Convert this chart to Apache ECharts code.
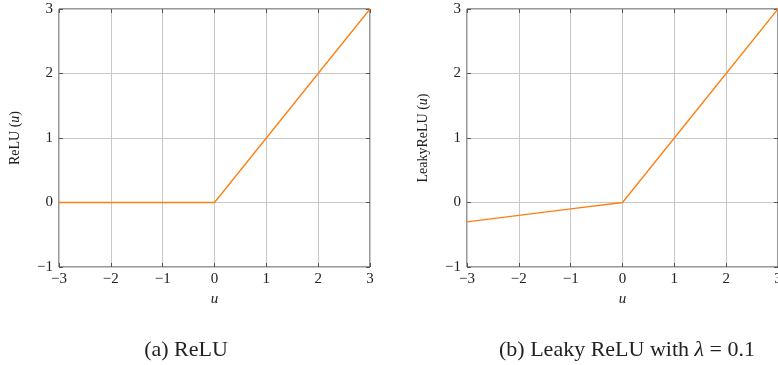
<!DOCTYPE html>
<html>
<head>
<meta charset="utf-8">
<script src="https://cdn.jsdelivr.net/npm/echarts@6/dist/echarts.min.js"></script>
<style>html,body{margin:0;padding:0;background:#fff}#c{width:778px;height:365px}</style>
</head>
<body>
<div id="c"></div>
<script>
const uValues = [-3, -2, -1, 0, 1, 2, 3];
const reluValues = [0, 0, 0, 0, 1, 2, 3];
const leakyValues = [-0.3, -0.2, -0.1, 0, 1, 2, 3];
const xTicks = [-3, -2, -1, 0, 1, 2, 3];
const yTicks = [-1, 0, 1, 2, 3];
const captions = ['{r|(a) ReLU}', '{r|(b) Leaky ReLU with }{i|λ}{r| = 0.1}'];

const FONT = 'Liberation Serif';
const lineColor = '#ff7f0e';
const fmt = v => (v < 0 ? '\u2212' + Math.abs(v) : String(v));

function xAx(gi, pos, showLabel) {
  return {
    type: 'value', gridIndex: gi, position: pos, min: xTicks[0], max: xTicks[xTicks.length - 1], interval: 1,
    axisLine: { show: false, onZero: false },
    axisTick: { show: true, inside: true, length: 4, lineStyle: { color: '#555', width: 1 } },
    axisLabel: { show: showLabel, formatter: fmt, color: '#222', fontFamily: FONT, fontSize: 15, margin: 5 },
    splitLine: { show: showLabel, lineStyle: { color: '#c8c8c8', width: 1 } },
    name: showLabel ? '{i|u}' : '', nameLocation: 'middle', nameGap: 25,
    nameTextStyle: { rich: { i: { fontFamily: FONT, fontStyle: 'italic', fontSize: 15, color: '#222' } } }
  };
}
function yAx(gi, pos, showLabel, nameTxt, nameGap) {
  return {
    type: 'value', gridIndex: gi, position: pos, min: yTicks[0], max: yTicks[yTicks.length - 1], interval: 1,
    axisLine: { show: false, onZero: false },
    axisTick: { show: true, inside: true, length: 4, lineStyle: { color: '#555', width: 1 } },
    axisLabel: { show: showLabel, formatter: fmt, color: '#222', fontFamily: FONT, fontSize: 15, margin: 6 },
    splitLine: { show: showLabel, lineStyle: { color: '#c8c8c8', width: 1 } },
    name: showLabel ? nameTxt : '', nameLocation: 'middle', nameGap: nameGap, nameRotate: 90,
    nameTextStyle: { rich: {
      r: { fontFamily: FONT, fontSize: 14, color: '#222' },
      i: { fontFamily: FONT, fontStyle: 'italic', fontSize: 14, color: '#222' }
    } }
  };
}

const capRich = {
  r: { fontFamily: FONT, fontSize: 22, fill: '#222' },
  i: { fontFamily: FONT, fontStyle: 'italic', fontSize: 22, fill: '#222' }
};

const chart = echarts.init(document.getElementById('c'), null, { renderer: 'canvas' });
chart.setOption({
  animation: false,
  backgroundColor: '#fff',
  grid: [
    { left: 59, width: 311, top: 9, height: 258, show: true, borderColor: '#333', borderWidth: 1, backgroundColor: 'transparent', outerBoundsMode: 'none', containLabel: false },
    { left: 467, width: 311, top: 9, height: 258, show: true, borderColor: '#333', borderWidth: 1, backgroundColor: 'transparent', outerBoundsMode: 'none', containLabel: false }
  ],
  xAxis: [xAx(0, 'bottom', true), xAx(0, 'top', false), xAx(1, 'bottom', true), xAx(1, 'top', false)],
  yAxis: [
    yAx(0, 'left', true, '{r|ReLU (}{i|u}{r|)}', 37),
    yAx(0, 'right', false, '', 0),
    yAx(1, 'left', true, '{r|LeakyReLU (}{i|u}{r|)}', 37),
    yAx(1, 'right', false, '', 0)
  ],
  series: [
    { type: 'line', xAxisIndex: 0, yAxisIndex: 0, data: uValues.map((u, i) => [u, reluValues[i]]),
      showSymbol: false, lineStyle: { color: lineColor, width: 1.3 }, z: 5 },
    { type: 'line', xAxisIndex: 2, yAxisIndex: 2, data: uValues.map((u, i) => [u, leakyValues[i]]),
      showSymbol: false, lineStyle: { color: lineColor, width: 1.3 }, z: 5 }
  ],
  graphic: [
    { type: 'text', style: { text: captions[0], rich: capRich, fill: '#222', textAlign: 'center', textVerticalAlign: 'middle', x: 186, y: 350 } },
    { type: 'text', style: { text: captions[1], rich: capRich, fill: '#222', textAlign: 'center', textVerticalAlign: 'middle', x: 627, y: 350 } }
  ]
});
</script>
</body>
</html>
